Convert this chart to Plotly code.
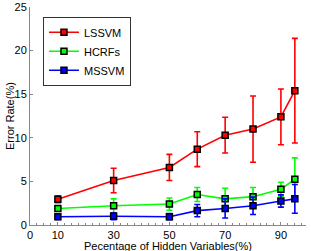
import plotly.graph_objects as go

x_vals = [10, 30, 50, 60, 70, 80, 90, 95]
lssvm = [2.95, 5.1, 6.6, 8.7, 10.3, 11.0, 12.4, 15.4]
lssvm_err = [0.4, 1.4, 1.5, 2.0, 2.05, 3.8, 3.2, 6.0]
hcrfs = [1.9, 2.2, 2.4, 3.5, 3.0, 3.25, 4.1, 5.25]
hcrfs_err = [0.3, 0.8, 0.7, 0.8, 1.2, 1.05, 0.8, 2.45]
mssvm = [0.95, 1.0, 0.95, 1.65, 1.9, 2.2, 2.75, 3.0]
mssvm_err = [0.3, 0.4, 0.35, 0.7, 1.1, 1.0, 0.7, 1.65]
x_ticks = [0, 10, 30, 50, 70, 90]
y_ticks = [0, 5, 10, 15, 20, 25]

series = [
    ("LSSVM", lssvm, lssvm_err, "#ff0000"),
    ("HCRFs", hcrfs, hcrfs_err, "#00ff00"),
    ("MSSVM", mssvm, mssvm_err, "#0000ff"),
]

fig = go.Figure()
for name, ys, errs, col in series:
    fig.add_trace(go.Scatter(
        x=x_vals, y=ys, name=name, mode="lines+markers",
        line=dict(color=col, width=1.6),
        marker=dict(symbol="square", size=6, color=col,
                    line=dict(color="black", width=1.5)),
        error_y=dict(type="data", array=errs, visible=True,
                     color=col, thickness=1.6, width=3),
    ))

fig.update_layout(
    width=311, height=251,
    margin=dict(l=30, r=5, t=7, b=26, autoexpand=False),
    paper_bgcolor="white", plot_bgcolor="white",
    font=dict(family="Liberation Sans, Arial, sans-serif", size=11, color="black"),
    showlegend=True,
    legend=dict(
        x=0.047, y=0.955, xanchor="left", yanchor="top",
        bordercolor="#333333", borderwidth=1, bgcolor="white",
        font=dict(size=11), tracegroupgap=0,
        itemwidth=30,
    ),
    xaxis=dict(
        range=[0, 99], tickmode="array", tickvals=x_ticks,
        ticks="inside", ticklen=3, tickcolor="#888888",
        showline=True, linecolor="#888888", linewidth=1,
        showgrid=False, zeroline=False, automargin=False,
        minor=dict(ticks="inside", dtick=2.5, tick0=0, ticklen=2, tickcolor="#888888"),
        tickfont=dict(size=11),
    ),
    yaxis=dict(
        range=[0, 25], tickmode="array", tickvals=y_ticks,
        ticks="inside", ticklen=3, tickcolor="#888888",
        showline=True, linecolor="#888888", linewidth=1,
        showgrid=False, zeroline=False, automargin=False,
        tickfont=dict(size=11),
    ),
    annotations=[
        dict(text="Pecentage of Hidden Variables(%)", xref="paper", yref="paper",
             x=0.5, y=0, xanchor="center", yanchor="top", yshift=-13,
             showarrow=False, font=dict(size=11)),
        dict(text="Error Rate(%)", xref="paper", yref="paper",
             x=0, y=0.5, xanchor="center", yanchor="middle", xshift=-20,
             textangle=-90, showarrow=False, font=dict(size=11)),
    ],
)

fig.write_html("out.html", config={"displayModeBar": False},
               post_script="document.body.style.margin='0';document.body.style.overflow='hidden';")
